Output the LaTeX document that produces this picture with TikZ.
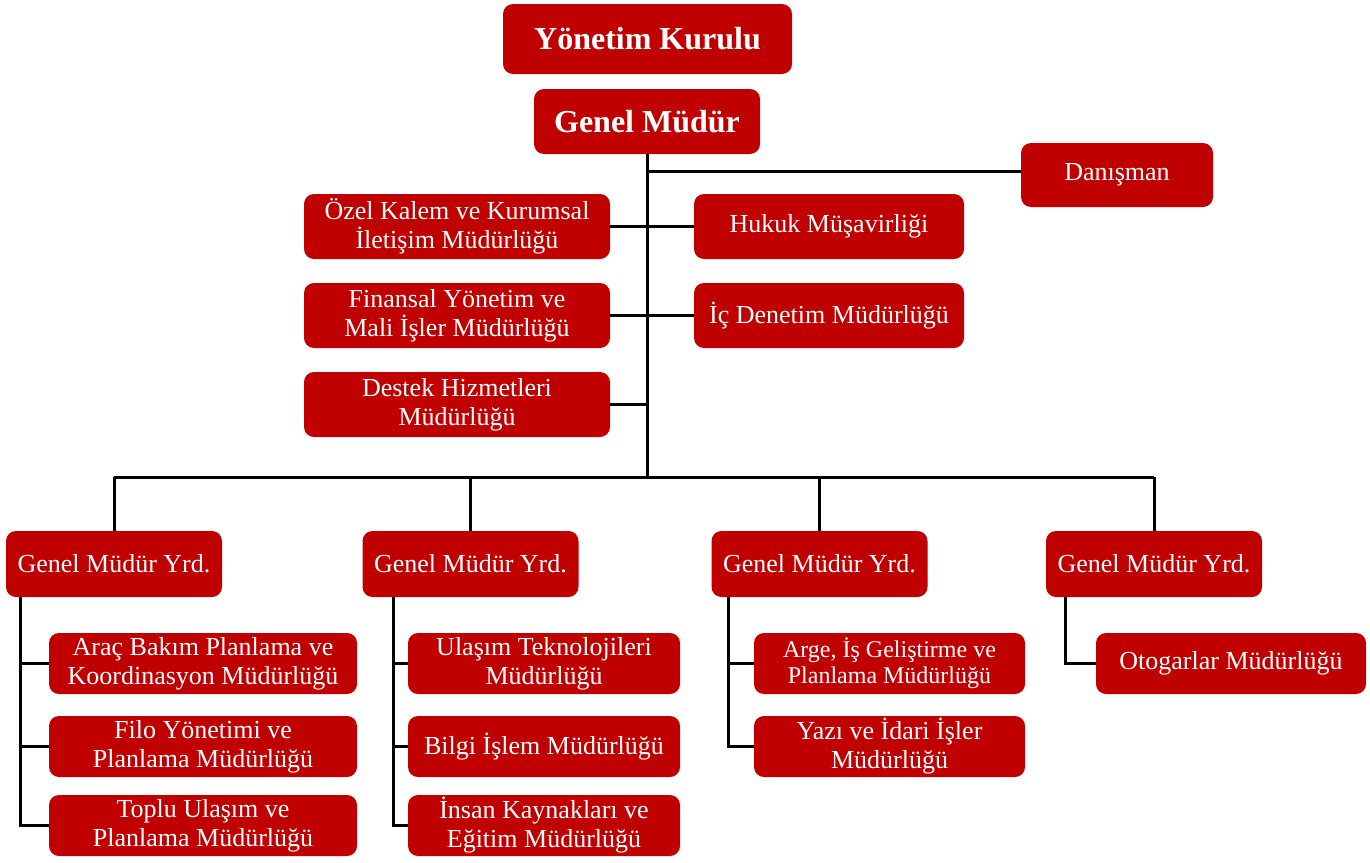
\documentclass[tikz,border=0pt]{standalone}
\usepackage{fontspec}
\setmainfont{Liberation Serif}
\usepackage{xcolor}
\usepackage{tikz}
\usetikzlibrary{positioning}

\definecolor{boxred}{HTML}{C00000}
\tikzset{
  unitbox/.style={fill=boxred, text=white, rounded corners=5pt, align=center,
    inner sep=0pt, font=\fontsize{13}{14.5}\selectfont},
  headbox/.style={unitbox, font=\bfseries\fontsize{16}{18}\selectfont},
  sidebox/.style={unitbox, minimum width=153pt, minimum height=32.5pt},
  rightbox/.style={unitbox, minimum width=135pt, minimum height=32.5pt},
  deputybox/.style={unitbox, minimum width=108pt, minimum height=33pt},
  subbox/.style={unitbox, minimum height=30.5pt},
  link/.style={line width=1.5pt},
}

\begin{document}
\begin{tikzpicture}[x=0.5pt,y=-0.5pt]
  \useasboundingbox (0,0) rectangle (1370,862);
  % board and general manager
  \node[headbox, minimum width=144.5pt, minimum height=35pt] (board) at (647.5,39) {Yönetim Kurulu};
  \node[headbox, minimum width=113pt, minimum height=32.5pt] (gm) at (647,121.5) {Genel Müdür};
  % staff units
  \node[unitbox, minimum width=96pt, minimum height=32pt] (advisor) at (1117,175) {Danışman};
  \node[sidebox] (pr) at (457,226.5) {Özel Kalem ve Kurumsal\\İletişim Müdürlüğü};
  \node[sidebox] (finance) at (457,315.5) {Finansal Yönetim ve\\Mali İşler Müdürlüğü};
  \node[sidebox] (support) at (457,404.5) {Destek Hizmetleri\\Müdürlüğü};
  \node[rightbox] (legal) at (829,226.5) {Hukuk Müşavirliği};
  \node[rightbox] (audit) at (829,315.5) {İç Denetim Müdürlüğü};
  % deputies
  \coordinate (bus) at (648,477);
  \node[deputybox] (gmy1) at (114,564) {Genel Müdür Yrd.};
  \node[deputybox] (gmy2) at (470.5,564) {Genel Müdür Yrd.};
  \node[deputybox] (gmy3) at (819.5,564) {Genel Müdür Yrd.};
  \node[deputybox] (gmy4) at (1154,564) {Genel Müdür Yrd.};
  % departments under each deputy
  \node[subbox, minimum width=154pt] (a1) at (203,663.5) {Araç Bakım Planlama ve\\Koordinasyon Müdürlüğü};
  \node[subbox, minimum width=154pt] (a2) at (203,746.5) {Filo Yönetimi ve\\Planlama Müdürlüğü};
  \node[subbox, minimum width=154pt] (a3) at (203,825.5) {Toplu Ulaşım ve\\Planlama Müdürlüğü};
  \node[subbox, minimum width=136pt] (b1) at (544,663.5) {Ulaşım Teknolojileri\\Müdürlüğü};
  \node[subbox, minimum width=136pt] (b2) at (544,746.5) {Bilgi İşlem Müdürlüğü};
  \node[subbox, minimum width=136pt] (b3) at (544,825.5) {İnsan Kaynakları ve\\Eğitim Müdürlüğü};
  \node[subbox, minimum width=135.5pt, font=\fontsize{12}{13}\selectfont] (c1) at (889.5,663.5) {Arge, İş Geliştirme ve\\Planlama Müdürlüğü};
  \node[subbox, minimum width=135.5pt] (c2) at (889.5,746.5) {Yazı ve İdari İşler\\Müdürlüğü};
  \node[subbox, minimum width=135pt] (d1) at (1231,663.5) {Otogarlar Müdürlüğü};

  % trunk and staff links
  \draw[link] (gm.south) -- (gm.south |- bus);
  \draw[link] (gm.south |- advisor.west) ++(0,-4) -- ([yshift=2pt]advisor.west);
  \draw[link] (pr.east) -- (legal.west);
  \draw[link] (finance.east) -- (audit.west);
  \draw[link] (support.east) -- (gm.south |- support.east);
  % deputy bus
  \draw[link] (gmy1.north |- bus) -- (gmy4.north |- bus);
  \foreach \g in {1,...,4}
    \draw[link] (gmy\g.north) -- (gmy\g.north |- bus);
  % branches
  \coordinate (ra) at (20,597);
  \coordinate (rb) at (393,597);
  \coordinate (rc) at (728,597);
  \coordinate (rd) at (1065,597);
  \foreach \u in {a1,a2,a3}
    \draw[link] (ra) |- (\u.west);
  \foreach \u in {b1,b2,b3}
    \draw[link] (rb) |- (\u.west);
  \foreach \u in {c1,c2}
    \draw[link] (rc) |- (\u.west);
  \draw[link] (rd) |- (d1.west);
\end{tikzpicture}
\end{document}
